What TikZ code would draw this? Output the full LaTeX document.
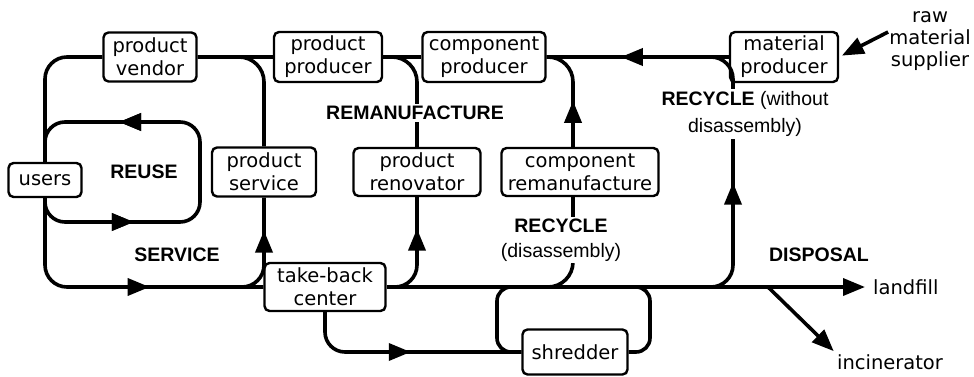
\documentclass[tikz,border=0pt]{standalone}
\usepackage{fontspec}
\setmainfont{DejaVu Sans}
\newfontfamily\labelfont{Liberation Sans}
\usetikzlibrary{arrows.meta,decorations.markings}
\begin{document}
\begin{tikzpicture}[x=1pt,y=-1pt,
  >={Triangle[length=22pt,width=17pt]},
  box/.style={draw, line width=2.4pt, rounded corners=5pt, fill=white,
    align=center, inner sep=1pt, font=\fontsize{19.5}{23}\selectfont},
  flow/.style={line width=3.6pt},
  flowarrow/.style={postaction={decorate}, decoration={markings,
    mark=at position #1 with {\arrow{>}}}},
  txt/.style={inner sep=1pt, align=center, font=\fontsize{19.5}{22}\selectfont},
  lbl/.style={fill=white, inner sep=2pt, align=center,
    font=\labelfont\fontsize{19.5}{25}\selectfont},
]
\useasboundingbox (0,0) rectangle (974,377);

% actors of the product life cycle
\node[box, minimum width=93pt,  minimum height=49pt] (vendor)    at (150,57)  {product\\vendor};
\node[box, minimum width=108pt, minimum height=50pt] (producer)  at (328,57)  {product\\producer};
\node[box, minimum width=123pt, minimum height=50pt] (compprod)  at (484,57)  {component\\producer};
\node[box, minimum width=108pt, minimum height=50pt] (matprod)   at (784,57)  {material\\producer};
\node[box, minimum width=73pt,  minimum height=34pt] (users)     at (45,180)  {users};
\node[box, minimum width=104pt, minimum height=49pt] (service)   at (264,172) {product\\service};
\node[box, minimum width=127pt, minimum height=48pt] (renovator) at (417,172) {product\\renovator};
\node[box, minimum width=157pt, minimum height=48pt] (compreman) at (580,172) {component\\remanufacture};
\node[box, minimum width=121pt, minimum height=48pt] (takeback)  at (325,287) {take-back\\center};
\node[box, minimum width=105pt, minimum height=45pt] (shredder)  at (575,352) {shredder};

% outside sources and sinks
\node[txt] (rms) at (930,41) {raw\\material\\supplier};
\node[txt, anchor=west] (landfill) at (872,287) {landfill};
\node[txt] (inc) at (890,362) {incinerator};

% junction points on the flow lines
\coordinate (sj)  at (240,287);
\coordinate (rj)  at (395,287);
\coordinate (rcj) at (548,287);
\coordinate (dj)  at (708,287);
\coordinate (ij)  at (768,287);
\coordinate (sh1) at (515,287);
\coordinate (sh2) at (636,287);

% top supply line
\draw[flow] (vendor.east) -- (producer.west);
\draw[flow] (producer.east) -- (compprod.west);
\draw[flow, flowarrow=108pt] (matprod.west) -- (compprod.east);
\draw[flow, ->, shorten >=3pt] ([yshift=9pt]rms.west) -- (matprod.east);

% use phase: vendor, reuse and service loops
\draw[flow, rounded corners=22pt] (vendor.west) -| (users.north);
\draw[flow, rounded corners=20pt, flowarrow=104pt, flowarrow=334pt]
  (users.south) -- (45,222) -- (200,222) -- (200,122) -- (45,122) -- (users.north);
\draw[flow, rounded corners=22pt, flowarrow=184pt] (users.south) |- (takeback.west);
\draw[flow, rounded corners=22pt, flowarrow=71pt] (sj) -| (service.south);
\draw[flow, rounded corners=25pt] (service.north) |- (vendor.east);

% remanufacture
\draw[flow, rounded corners=22pt, flowarrow=71pt] (rj) -| (renovator.south);
\draw[flow, rounded corners=25pt] (renovator.north) |- (producer.east);
\draw[flow, rounded corners=25pt, flowarrow=46pt] ([xshift=-7pt]compreman.north) |- (compprod.east);
\draw[flow, rounded corners=25pt] (rcj) -| ([xshift=-7pt]compreman.south);

% recycling without disassembly
\draw[flow, rounded corners=22pt, flowarrow=120pt]
  (dj) -- (733,287) -- (733,57) -- (compprod.east);

% disposal line and shredder loop
\draw[flow, ->, shorten >=7pt] (takeback.east) -- (landfill.west);
\draw[flow, ->, shorten >=3pt] (ij) -- (inc.north west);
\draw[flow, rounded corners=20pt, flowarrow=117pt] (takeback.south) |- (shredder.west);
\draw[flow, rounded corners=14pt] (sh1) -- (497,287) -- (497,352) -- (shredder.west);
\draw[flow, rounded corners=14pt] (shredder.east) -- (650,352) -- (650,287) -- (sh2);

% loop names
\node[lbl] (reuse)   at (144,172) {\bfseries REUSE};
\node[lbl] (serv)    at (177,255) {\bfseries SERVICE};
\node[lbl] (reman)   at (415,113) {\bfseries REMANUFACTURE};
\node[lbl] (recdis)  at (561,240) {\bfseries RECYCLE\\(disassembly)};
\node[lbl, font=\labelfont\fontsize{19.5}{27}\selectfont] (recwo) at (745,114) {{\bfseries RECYCLE} (without\\disassembly)};
\node[lbl] (disp)    at (819,255) {\bfseries DISPOSAL};
\end{tikzpicture}
\end{document}
